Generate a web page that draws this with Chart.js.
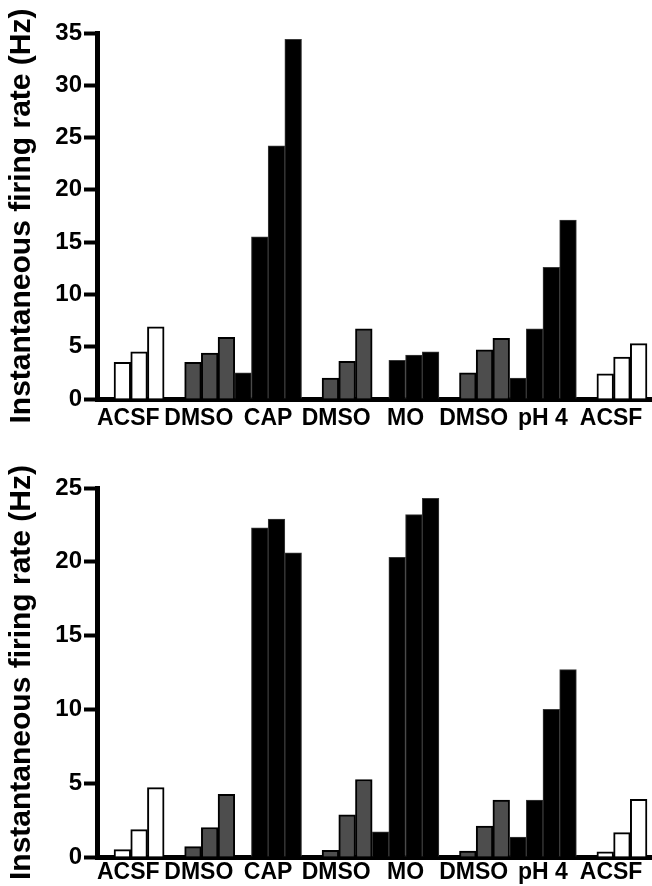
<!DOCTYPE html>
<html>
<head>
<meta charset="utf-8">
<script src="https://cdn.jsdelivr.net/npm/chart.js@4.4.0/dist/chart.umd.min.js"></script>
<style>
  html, body { margin: 0; padding: 0; background: #fff; }
  .panel { width: 652px; height: 443px; }
  canvas { display: block; }
</style>
</head>
<body>
<div class="panel"><canvas id="topChart" width="652" height="443"></canvas></div>
<div class="panel"><canvas id="bottomChart" width="652" height="443"></canvas></div>
<script>
const groupLabels = ['ACSF', 'DMSO', 'CAP', 'DMSO', 'MO', 'DMSO', 'pH 4', 'ACSF'];
const groupColors = ['#ffffff', '#4d4d4d', '#000000', '#4d4d4d', '#000000', '#4d4d4d', '#000000', '#ffffff'];
// groups drawn side by side, blocks separated by a gap
const blocks = [[0], [1, 2], [3, 4], [5, 6], [7]];

// top cell, Hz (first bar of CAP / MO / pH 4 = before application, null = no bar)
const topAcsf1 = [3.5, 4.5, 6.9];
const topDmso1 = [3.5, 4.4, 5.9];
const topCap = [2.5, 15.5, 24.2, 34.4];
const topDmso2 = [2.0, 3.6, 6.7];
const topMo = [null, 3.7, 4.2, 4.5];
const topDmso3 = [2.5, 4.7, 5.8];
const topPh4 = [2.0, 6.7, 12.6, 17.1];
const topAcsf2 = [2.4, 4.0, 5.3];
const topTicks = [0, 5, 10, 15, 20, 25, 30, 35];

// bottom cell, Hz
const bottomAcsf1 = [0.5, 1.85, 4.7];
const bottomDmso1 = [0.7, 2.0, 4.25];
const bottomCap = [null, 22.3, 22.9, 20.6];
const bottomDmso2 = [0.45, 2.85, 5.25];
const bottomMo = [1.7, 20.3, 23.2, 24.3];
const bottomDmso3 = [0.4, 2.1, 3.85];
const bottomPh4 = [1.35, 3.85, 10.0, 12.7];
const bottomAcsf2 = [0.35, 1.65, 3.9];
const bottomTicks = [0, 5, 10, 15, 20, 25];

const FONT = 'Liberation Sans, Arial, sans-serif';
const BLOCK_GAP = 1.23;

function layout(groups) {
    const points = [];
    const colors = [];
    const borders = [];
    const widths = [];
    const labelPos = [];
    let x = 0;
    blocks.forEach((block, b) => {
        if (b > 0) x += BLOCK_GAP;
        block.forEach(g => {
            const vals = groups[g];
            vals.forEach((v, i) => {
                points.push({ x: x + i + 0.5, y: v });
                colors.push(groupColors[g]);
                const dark = groupColors[g] === '#000000';
                borders.push(dark ? '#3a3a3a' : '#000');
                widths.push(dark ? 1 : 2);
            });
            labelPos.push(x + vals.length / 2 - (vals.length === 3 ? 0.65 : 0));
            x += vals.length;
        });
    });
    return { points, colors, borders, widths, labelPos, end: x };
}

function renderPanel(id, groups, ticks, opts) {
    const l = layout(groups);
    new Chart(document.getElementById(id), {
        type: 'bar',
        data: {
            datasets: [{
                data: l.points,
                backgroundColor: l.colors,
                borderColor: l.borders,
                borderWidth: l.widths,
                categoryPercentage: 1,
                barPercentage: 1
            }]
        },
        options: {
            responsive: false,
            animation: false,
            layout: { padding: { top: opts.top, left: 0, right: 0, bottom: 0 } },
            plugins: { legend: { display: false }, tooltip: { enabled: false } },
            scales: {
                x: {
                    type: 'linear',
                    offset: false,
                    z: 1,
                    min: -1.02,
                    max: l.end + 0.3,
                    grid: { display: false, drawTicks: false },
                    border: { display: true, color: '#000', width: 5 },
                    ticks: {
                        autoSkip: false,
                        maxRotation: 0,
                        padding: opts.labelPad,
                        color: '#000',
                        font: { family: FONT, size: 23, weight: 'bold' },
                        callback: (v, i) => groupLabels[i]
                    },
                    afterBuildTicks: s => { s.ticks = l.labelPos.map(v => ({ value: v })); },
                    afterFit: s => { s.height = opts.xHeight; }
                },
                y: {
                    min: 0,
                    max: ticks[ticks.length - 1],
                    grid: { display: true, drawOnChartArea: false, drawTicks: true, tickLength: 13, tickWidth: 4, tickColor: '#000' },
                    border: { display: true, color: '#000', width: 5 },
                    ticks: {
                        padding: 2,
                        color: '#000',
                        font: { family: FONT, size: 24, weight: 'bold' },
                        callback: v => String(v)
                    },
                    afterBuildTicks: s => { s.ticks = ticks.map(v => ({ value: v })); },
                    title: {
                        display: true,
                        text: 'Instantaneous firing rate (Hz)',
                        color: '#000',
                        font: { family: FONT, size: 30, weight: 'bold' },
                        padding: { top: 4, bottom: 0 }
                    },
                    afterFit: s => { s.width = 97; }
                }
            }
        }
    });
}

renderPanel('topChart',
    [topAcsf1, topDmso1, topCap, topDmso2, topMo, topDmso3, topPh4, topAcsf2],
    topTicks, { top: 33, xHeight: 44, labelPad: 6 });
renderPanel('bottomChart',
    [bottomAcsf1, bottomDmso1, bottomCap, bottomDmso2, bottomMo, bottomDmso3, bottomPh4, bottomAcsf2],
    bottomTicks, { top: 45, xHeight: 29, labelPad: 2 });
</script>
</body>
</html>
